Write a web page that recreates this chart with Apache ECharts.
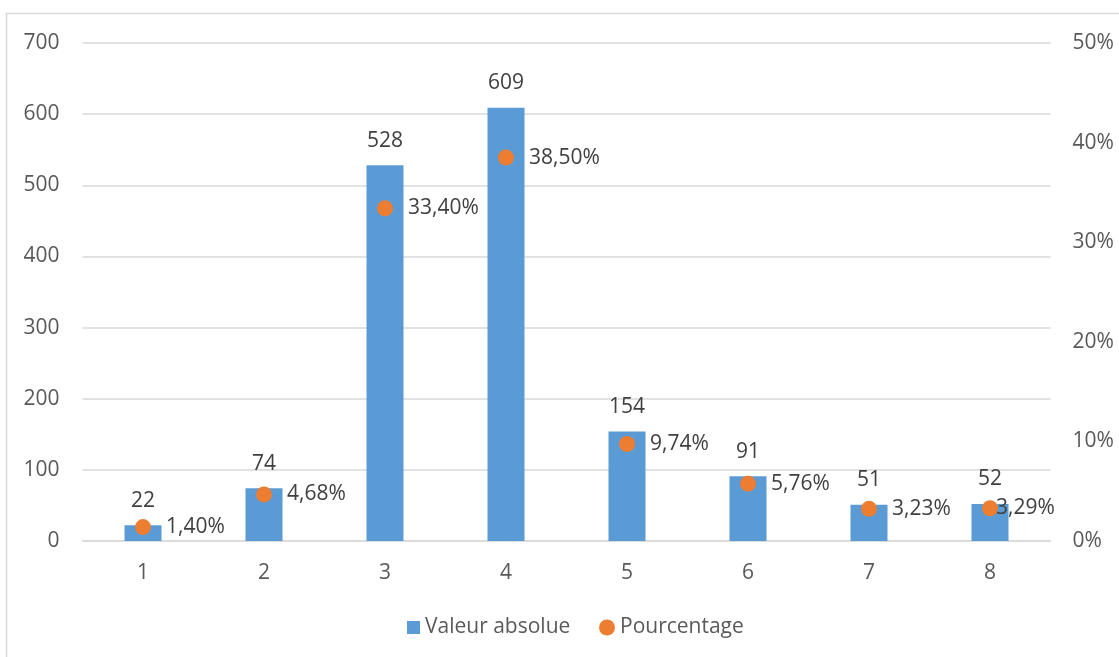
<!DOCTYPE html>
<html>
<head>
<meta charset="utf-8">
<script src="https://cdn.jsdelivr.net/npm/echarts@6/dist/echarts.min.js"></script>
<style>
html,body{margin:0;padding:0;background:#fff;}
#chart{width:1119px;height:657px;}
</style>
</head>
<body>
<div id="chart"></div>
<script>
const categories = ['1','2','3','4','5','6','7','8'];
const absoluteValues = [22, 74, 528, 609, 154, 91, 51, 52];
const percentValues = [1.40, 4.68, 33.40, 38.50, 9.74, 5.76, 3.23, 3.29];
const seriesNames = ['Valeur absolue', 'Pourcentage'];

const FONT = 'Open Sans';
const TXT = '#595959';
const FS = 21;

const percentData = percentValues.map((v, i) =>
  i === percentValues.length - 1 ? {value: v, label: {distance: -2}} : v);

const chart = echarts.init(document.getElementById('chart'), null, {renderer: 'canvas'});
chart.setOption({
  animation: false,
  textStyle: {fontFamily: FONT},
  graphic: [{
    type: 'rect', silent: true, z: -10,
    shape: {x: 6.5, y: 13.5, width: 1200, height: 800},
    style: {fill: '#fff', stroke: '#d9d9d9', lineWidth: 1.5}
  }],
  grid: {left: 82.5, right: 68.5, top: 43, bottom: 116, containLabel: false},
  legend: [{
    data: [{name: seriesNames[0], icon: 'rect'}],
    left: 407, top: 617, padding: 0,
    itemWidth: 13, itemHeight: 13, itemGap: 0,
    textStyle: {fontFamily: FONT, fontSize: FS, color: TXT}
  }, {
    data: [{name: seriesNames[1], icon: 'circle'}],
    left: 599, top: 617, padding: 0,
    itemWidth: 16, itemHeight: 16, itemGap: 0,
    textStyle: {fontFamily: FONT, fontSize: FS, color: TXT}
  }],
  xAxis: {
    type: 'category', data: categories,
    axisLine: {lineStyle: {color: '#d9d9d9', width: 1.5}},
    axisTick: {show: false},
    axisLabel: {fontFamily: FONT, fontSize: FS, color: TXT, margin: 22}
  },
  yAxis: [{
    type: 'value', min: 0, max: 700, interval: 100,
    axisLine: {show: false}, axisTick: {show: false},
    splitLine: {lineStyle: {color: '#d9d9d9', width: 1.5}},
    axisLabel: {fontFamily: FONT, fontSize: FS, color: TXT, margin: 23}
  }, {
    type: 'value', min: 0, max: 50, interval: 10,
    axisLine: {show: false}, axisTick: {show: false},
    splitLine: {show: false},
    axisLabel: {fontFamily: FONT, fontSize: FS, color: TXT, margin: 22, formatter: '{value}%'}
  }],
  series: [{
    name: seriesNames[0], type: 'bar', data: absoluteValues, barWidth: 37,
    itemStyle: {color: '#5b9bd5'},
    label: {show: true, position: 'top', distance: 14, fontFamily: FONT, fontSize: FS, color: '#404040'}
  }, {
    name: seriesNames[1], type: 'scatter', yAxisIndex: 1, data: percentData,
    symbolSize: 16,
    itemStyle: {color: '#ed7d31', opacity: 1},
    label: {show: true, position: 'right', distance: 15, fontFamily: FONT, fontSize: FS, color: '#404040',
      formatter: p => p.value.toFixed(2).replace('.', ',') + '%'}
  }]
});
</script>
</body>
</html>
